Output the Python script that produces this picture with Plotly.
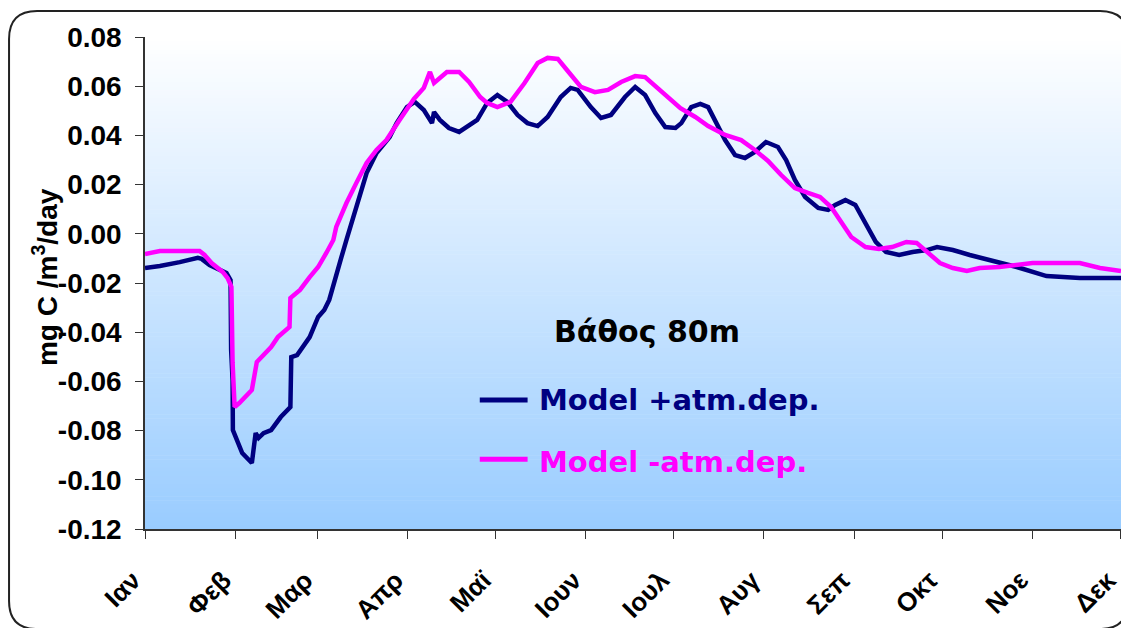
import numpy as np
import pandas as pd
import plotly.graph_objects as go

# Day of year (0 = 1 Jan) and carbon flux (mg C/m3/day) at 80 m depth
days_with_dep = [0, 5.1, 11.9, 18.1, 19.4, 22.1, 27.9, 29.3, 29.5, 30.0, 30.1, 31.7, 33.3, 36.6,
                 37.9, 38.9, 40.6, 43.2, 44.5, 46.5, 49.8, 50.1, 52.1, 54.4, 56.4, 59.3, 61.4,
                 63.1, 65.5, 67.3, 69.0, 72.4, 75.9, 79.3, 83.8, 86.2, 89.7, 92.4, 95.5, 98.3,
                 99.0, 101.0, 104.1, 107.6, 110.3, 113.8, 117.2, 120.7, 124.1, 127.6, 131.0,
                 134.5, 137.9, 142.4, 145.8, 148.2, 152.7, 156.2, 159.6, 164.4, 167.9, 171.3,
                 174.8, 178.2, 181.7, 183.7, 187.1, 190.2, 192.9, 195.3, 198.7, 202.1, 205.5,
                 208.9, 212.7, 216.8, 219.6, 222.6, 226.1, 230.6, 234.0, 236.4, 239.9, 243.3,
                 246.8, 250.3, 253.8, 258.3, 262.9, 267.8, 271.3, 276.7, 282.5, 285.2, 290.3,
                 298.6, 308.8, 320.2, 334.3]
flux_with_dep = [-0.0139, -0.0131, -0.0115, -0.0098, -0.0102, -0.0127, -0.0159, -0.0188, -0.0472,
                 -0.0594, -0.0798, -0.0850, -0.0891, -0.0932, -0.0810, -0.0830, -0.0810, -0.0798,
                 -0.0777, -0.0745, -0.0704, -0.0501, -0.0493, -0.0452, -0.0420, -0.0338, -0.0310,
                 -0.0269, -0.0159, -0.0094, -0.0025, 0.0109, 0.0247, 0.0328, 0.0393, 0.0450,
                 0.0515, 0.0536, 0.0503, 0.0450, 0.0495, 0.0463, 0.0430, 0.0414, 0.0434, 0.0463,
                 0.0532, 0.0564, 0.0536, 0.0483, 0.0450, 0.0438, 0.0475, 0.0556, 0.0593, 0.0585,
                 0.0515, 0.0471, 0.0483, 0.0556, 0.0597, 0.0564, 0.0491, 0.0434, 0.0430, 0.0450,
                 0.0515, 0.0528, 0.0515, 0.0463, 0.0381, 0.0320, 0.0308, 0.0333, 0.0373, 0.0353,
                 0.0300, 0.0219, 0.0150, 0.0105, 0.0097, 0.0117, 0.0137, 0.0117, 0.0044, -0.0033,
                 -0.0074, -0.0086, -0.0074, -0.0066, -0.0054, -0.0066, -0.0086, -0.0094, -0.0107,
                 -0.0135, -0.0172, -0.0180, -0.0180]

days_no_dep = [0, 5.1, 18.7, 20.4, 22.8, 26.6, 28.3, 29.6, 30.0, 30.7, 32.3, 36.6, 38.3, 39.9,
               43.2, 45.5, 49.5, 49.8, 53.1, 56.4, 59.3, 62.1, 64.5, 65.5, 69.0, 72.4, 75.9,
               79.3, 82.7, 87.2, 92.1, 95.5, 97.6, 99.0, 103.4, 107.6, 111.0, 114.8, 117.2,
               120.7, 125.2, 130.0, 134.5, 137.9, 141.4, 144.8, 149.3, 154.1, 158.6, 163.1,
               167.9, 171.3, 176.9, 183.4, 188.5, 192.9, 198.7, 204.2, 208.9, 213.4, 217.9,
               222.6, 227.1, 231.2, 235.0, 238.5, 241.9, 246.8, 251.4, 255.9, 260.8, 264.3,
               267.8, 272.3, 276.7, 281.5, 285.9, 292.7, 304.0, 320.2, 327.1, 334.3]
flux_no_dep = [-0.0082, -0.0070, -0.0070, -0.0086, -0.0119, -0.0155, -0.0180, -0.0216, -0.0525,
               -0.0704, -0.0688, -0.0635, -0.0521, -0.0501, -0.0460, -0.0420, -0.0379, -0.0261,
               -0.0228, -0.0176, -0.0135, -0.0078, -0.0025, 0.0028, 0.0125, 0.0207, 0.0288,
               0.0341, 0.0381, 0.0463, 0.0548, 0.0593, 0.0658, 0.0613, 0.0658, 0.0658, 0.0617,
               0.0556, 0.0532, 0.0515, 0.0536, 0.0613, 0.0694, 0.0715, 0.0711, 0.0662, 0.0597,
               0.0576, 0.0585, 0.0617, 0.0641, 0.0637, 0.0580, 0.0511, 0.0475, 0.0438, 0.0402,
               0.0381, 0.0341, 0.0296, 0.0239, 0.0186, 0.0166, 0.0150, 0.0109, 0.0044, -0.0013,
               -0.0054, -0.0062, -0.0054, -0.0033, -0.0037, -0.0074, -0.0119, -0.0139, -0.0151,
               -0.0139, -0.0135, -0.0119, -0.0119, -0.0139, -0.0151]

month_labels = ["Ιαν", "Φεβ", "Μαρ", "Απρ", "Μαϊ", "Ιουν", "Ιουλ", "Αυγ", "Σεπ", "Οκτ", "Νοε", "Δεκ"]
y_ticks = [-0.12, -0.10, -0.08, -0.06, -0.04, -0.02, 0.00, 0.02, 0.04, 0.06, 0.08]
series_names = ["Model +atm.dep.", "Model -atm.dep."]
chart_title = "Βάθος 80m"

YEAR_START = pd.Timestamp("2001-01-01")


def to_dates(d):
    return YEAR_START + pd.to_timedelta(np.asarray(d, dtype=float), unit="D")


NAVY = "#000080"
MAGENTA = "#FF00FF"
AXIS = "#333333"

fig = go.Figure()
fig.add_trace(go.Scatter(x=to_dates(days_with_dep), y=flux_with_dep, mode="lines",
                         name=series_names[0], line=dict(color=NAVY, width=4.5)))
fig.add_trace(go.Scatter(x=to_dates(days_no_dep), y=flux_no_dep, mode="lines",
                         name=series_names[1], line=dict(color=MAGENTA, width=4.5)))

# vertical white-to-blue gradient behind the plot area
shapes = []
n_bands = 120
top = np.array([255, 255, 255])
bottom = np.array([153, 204, 255])
for i in range(n_bands):
    f = (i + 0.5) / n_bands
    c = top + (bottom - top) * f
    shapes.append(dict(type="rect", xref="x domain", yref="y domain",
                       x0=0, x1=1, y0=1 - (i + 1) / n_bands - 0.001, y1=1 - i / n_bands,
                       fillcolor=f"rgb({c[0]:.0f},{c[1]:.0f},{c[2]:.0f})",
                       line=dict(width=0), layer="below"))

# rounded outer frame (paper coordinates, extends past the plot area)
L, R, T, B = -0.1393, 1.0072, 1.0528, -0.2033
rx, ry = 0.0287, 0.0569
frame = (f"M {L+rx},{T} L {R-rx},{T} Q {R},{T} {R},{T-ry} L {R},{B+ry} Q {R},{B} {R-rx},{B} "
         f"L {L+rx},{B} Q {L},{B} {L},{B+ry} L {L},{T-ry} Q {L},{T} {L+rx},{T} Z")
shapes.append(dict(type="path", xref="paper", yref="paper", path=frame,
                   line=dict(color="#222222", width=2)))

# legend samples
shapes.append(dict(type="line", xref="paper", yref="paper", x0=0.343, x1=0.392, y0=0.262, y1=0.262,
                   line=dict(color=NAVY, width=5)))
shapes.append(dict(type="line", xref="paper", yref="paper", x0=0.343, x1=0.392, y0=0.142, y1=0.142,
                   line=dict(color=MAGENTA, width=5)))

annotations = [
    dict(text=f"<b>{series_names[0]}</b>", xref="paper", yref="paper", x=0.402, y=0.262,
         xanchor="left", yanchor="middle", showarrow=False,
         font=dict(family="DejaVu Sans", size=29, color=NAVY)),
    dict(text=f"<b>{series_names[1]}</b>", xref="paper", yref="paper", x=0.402, y=0.136,
         xanchor="left", yanchor="middle", showarrow=False,
         font=dict(family="DejaVu Sans", size=29, color=MAGENTA)),
    dict(text=f"<b>{chart_title}</b>", xref="paper", yref="paper", x=0.514, y=0.402,
         xanchor="center", yanchor="middle", showarrow=False,
         font=dict(family="DejaVu Sans", size=30, color="black")),
    dict(text="<b>mg C /m<sup>3</sup>/day</b>", xref="paper", yref="paper", x=-0.1025, y=0.512,
         xanchor="center", yanchor="middle", textangle=-90, showarrow=False,
         font=dict(family="Liberation Sans", size=28, color="black")),
]

month_starts = [YEAR_START + pd.DateOffset(months=m) for m in range(12)]

fig.update_layout(
    width=1121, height=628,
    margin=dict(l=145, r=0, t=37, b=99),
    paper_bgcolor="white", plot_bgcolor="white",
    showlegend=False,
    shapes=shapes, annotations=annotations,
    xaxis=dict(type="date", range=[YEAR_START, YEAR_START + pd.Timedelta(days=334.3)],
               tickmode="array", tickvals=month_starts, ticktext=[f"<b>{m}</b>" for m in month_labels],
               tickangle=-45, ticks="outside", ticklen=8, tickcolor=AXIS, showline=True,
               linecolor=AXIS, linewidth=1.5, showgrid=False, zeroline=False, automargin=False,
               ticklabeloverflow="allow", ticklabelstandoff=16, ticklabelshift=-12,
               tickfont=dict(family="Liberation Sans", size=26, color="black")),
    yaxis=dict(range=[-0.12, 0.08], tickmode="array", tickvals=y_ticks,
               ticktext=[f"<b>{v:.2f}</b>" for v in y_ticks], ticks="outside", ticklen=8,
               tickcolor=AXIS, showline=True, linecolor=AXIS, linewidth=1.5, showgrid=False,
               zeroline=False, ticklabelstandoff=8, automargin=False,
               tickfont=dict(family="Liberation Sans", size=28, color="black")),
)

fig.write_html("out.html")
